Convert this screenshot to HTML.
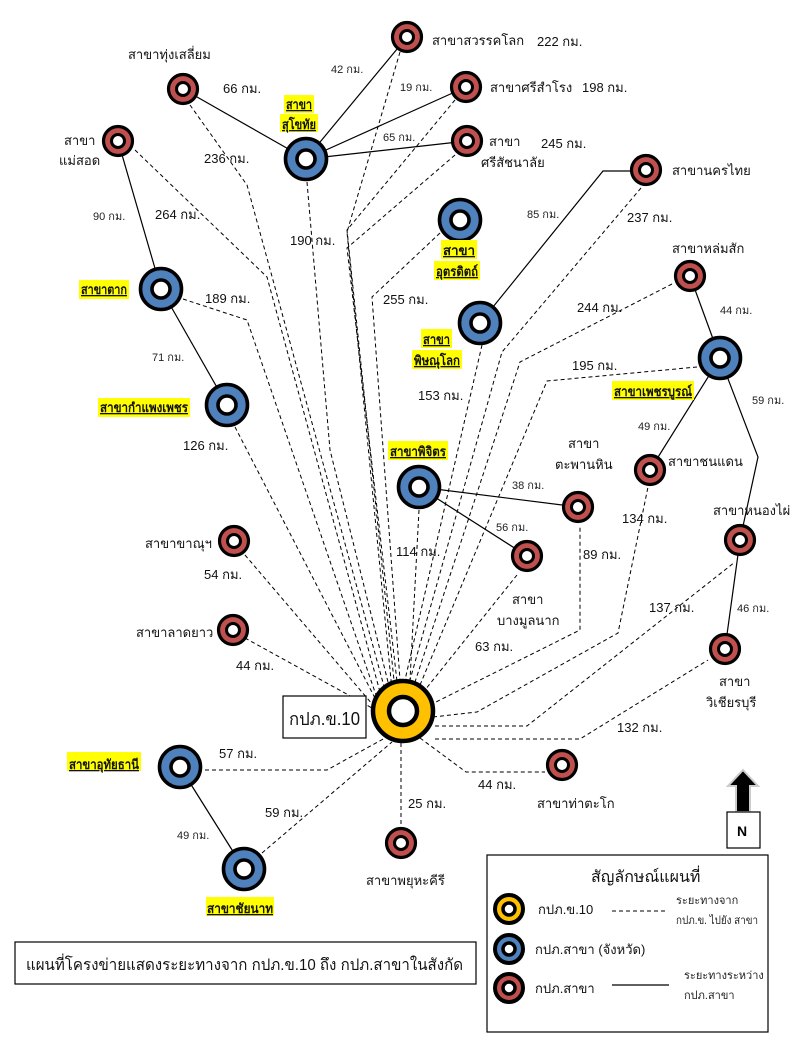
<!DOCTYPE html>
<html><head><meta charset="utf-8">
<style>
html,body{margin:0;padding:0;background:#fff;}
svg{display:block;font-family:"Liberation Sans","Noto Sans CJK SC",sans-serif;}
.t{font-size:13px;fill:#111;}
.s{font-size:11px;fill:#222;}
.h{font-size:13px;font-weight:bold;fill:#111;text-decoration:underline;}
.d{fill:none;stroke:#000;stroke-width:1;stroke-dasharray:4,3;}
.l{fill:none;stroke:#000;stroke-width:1.2;}
</style></head>
<body>
<svg width="793" height="1045" viewBox="0 0 793 1045" xmlns="http://www.w3.org/2000/svg">
<defs>
<g id="red"><circle r="14.5" fill="#c0504d" stroke="#000" stroke-width="3.2"/><circle r="6.5" fill="#fff" stroke="#000" stroke-width="3"/></g>
<g id="blue"><circle r="20.5" fill="#4f81bd" stroke="#000" stroke-width="3.6"/><circle r="9" fill="#fff" stroke="#000" stroke-width="3.6"/></g>
</defs>

<g class="d">
<polyline points="400,52 347,232 392,690"/>
<polyline points="455,100 347,230 395,690"/>
<polyline points="455,155 347,248 398,690"/>
<polyline points="307,182 330,450 390,690"/>
<polyline points="190,105 247,185 385,690"/>
<polyline points="135,150 267,277 380,692"/>
<polyline points="183,299 247,320 376,695"/>
<line x1="235" y1="427" x2="376" y2="700"/>
<line x1="245" y1="555" x2="373" y2="705"/>
<line x1="245" y1="638" x2="372" y2="708"/>
<polyline points="205,770 327,770 385,738"/>
<line x1="262" y1="853" x2="392" y2="742"/>
<line x1="401" y1="743" x2="401" y2="827"/>
<polyline points="420,738 466,772 545,772"/>
<polyline points="435,739 580,739 708,660"/>
<polyline points="435,726 527,726 735,562"/>
<polyline points="433,717 477,712 618,633 648,487"/>
<polyline points="430,705 580,630 580,527"/>
<line x1="517" y1="575" x2="425" y2="690"/>
<line x1="419" y1="510" x2="410" y2="680"/>
<polyline points="482,345 405,680"/>
<polyline points="641,188 502,352 410,680"/>
<polyline points="672,284 520,362 415,682"/>
<polyline points="697,367 547,381 420,685"/>
<polyline points="440,233 372,297 400,680"/>
</g>

<g class="l">
<line x1="306" y1="159" x2="183" y2="89"/>
<line x1="306" y1="159" x2="407" y2="37"/>
<line x1="306" y1="159" x2="466" y2="87"/>
<line x1="306" y1="159" x2="467" y2="141"/>
<line x1="118" y1="141" x2="161" y2="289"/>
<line x1="161" y1="289" x2="227" y2="405"/>
<polyline points="480,323 603,171 646,171"/>
<line x1="690" y1="276" x2="720" y2="358"/>
<line x1="720" y1="358" x2="650" y2="470"/>
<polyline points="720,358 758,457 740,540"/>
<line x1="740" y1="540" x2="725" y2="649"/>
<line x1="419" y1="487" x2="578" y2="507"/>
<line x1="419" y1="487" x2="527" y2="556"/>
<line x1="180" y1="767" x2="244" y2="869"/>
</g>

<use href="#red" x="407" y="37"/>
<use href="#red" x="466" y="87"/>
<use href="#red" x="467" y="141"/>
<use href="#red" x="183" y="89"/>
<use href="#red" x="118" y="141"/>
<use href="#red" x="646" y="170"/>
<use href="#red" x="690" y="276"/>
<use href="#red" x="650" y="470"/>
<use href="#red" x="578" y="507"/>
<use href="#red" x="527" y="556"/>
<use href="#red" x="740" y="540"/>
<use href="#red" x="725" y="649"/>
<use href="#red" x="234" y="541"/>
<use href="#red" x="233" y="630"/>
<use href="#red" x="562" y="765"/>
<use href="#red" x="401" y="843"/>
<use href="#blue" x="306" y="159"/>
<use href="#blue" x="161" y="289"/>
<use href="#blue" x="460" y="220"/>
<use href="#blue" x="480" y="323"/>
<use href="#blue" x="720" y="358"/>
<use href="#blue" x="227" y="405"/>
<use href="#blue" x="419" y="487"/>
<use href="#blue" x="180" y="767"/>
<use href="#blue" x="244" y="869"/>
<circle cx="403" cy="711" r="30" fill="#ffc000" stroke="#000" stroke-width="4.5"/>
<circle cx="403" cy="711" r="14" fill="#fff" stroke="#000" stroke-width="4.5"/>

<g fill="#ffff00">
<rect x="284" y="95" width="30" height="18"/><rect x="280" y="114" width="38" height="18"/>
<rect x="79" y="280" width="50" height="19"/>
<rect x="98" y="398" width="92" height="19"/>
<rect x="441" y="240" width="36" height="19"/><rect x="434" y="261" width="46" height="19"/>
<rect x="421" y="329" width="31" height="19"/><rect x="412" y="350" width="50" height="19"/>
<rect x="612" y="381" width="82" height="19"/>
<rect x="388" y="441" width="60" height="19"/>
<rect x="67" y="752" width="74" height="19"/>
<rect x="206" y="897" width="68" height="19"/>
</g>

<text class="t" x="432" y="45">สาขาสวรรคโลก</text>
<text class="t" x="537" y="46">222 กม.</text>
<text class="t" x="490" y="92">สาขาศรีสำโรง</text>
<text class="t" x="582" y="92">198 กม.</text>
<text class="t" x="489" y="146">สาขา</text>
<text class="t" x="481" y="167">ศรีสัชนาลัย</text>
<text class="t" x="541" y="148">245 กม.</text>
<text class="t" x="128" y="59">สาขาทุ่งเสลี่ยม</text>
<text class="t" x="223" y="93">66 กม.</text>
<text class="h" x="286" y="109" textLength="26" lengthAdjust="spacingAndGlyphs">สาขา</text>
<text class="h" x="282" y="129" textLength="34" lengthAdjust="spacingAndGlyphs">สุโขทัย</text>
<text class="s" x="331" y="73">42 กม.</text>
<text class="s" x="400" y="91">19 กม.</text>
<text class="s" x="383" y="141">65 กม.</text>
<text class="t" x="64" y="145">สาขา</text>
<text class="t" x="59" y="165">แม่สอด</text>
<text class="t" x="204" y="163">236 กม.</text>
<text class="t" x="155" y="219">264 กม.</text>
<text class="t" x="290" y="245">190 กม.</text>
<text class="s" x="93" y="220">90 กม.</text>
<text class="h" x="81" y="294" textLength="46" lengthAdjust="spacingAndGlyphs">สาขาตาก</text>
<text class="t" x="205" y="303">189 กม.</text>
<text class="s" x="152" y="361">71 กม.</text>
<text class="h" x="100" y="412" textLength="88" lengthAdjust="spacingAndGlyphs">สาขากำแพงเพชร</text>
<text class="t" x="183" y="450">126 กม.</text>
<text class="h" x="443" y="255" textLength="32" lengthAdjust="spacingAndGlyphs">สาขา</text>
<text class="h" x="436" y="276" textLength="42" lengthAdjust="spacingAndGlyphs">อุตรดิตถ์</text>
<text class="t" x="383" y="304">255 กม.</text>
<text class="s" x="527" y="218">85 กม.</text>
<text class="t" x="627" y="222">237 กม.</text>
<text class="t" x="672" y="175">สาขานครไทย</text>
<text class="t" x="672" y="253">สาขาหล่มสัก</text>
<text class="t" x="577" y="312">244 กม.</text>
<text class="s" x="720" y="314">44 กม.</text>
<text class="h" x="423" y="344" textLength="27" lengthAdjust="spacingAndGlyphs">สาขา</text>
<text class="h" x="414" y="365" textLength="46" lengthAdjust="spacingAndGlyphs">พิษณุโลก</text>
<text class="t" x="572" y="370">195 กม.</text>
<text class="h" x="614" y="396" textLength="78" lengthAdjust="spacingAndGlyphs">สาขาเพชรบูรณ์</text>
<text class="t" x="418" y="400">153 กม.</text>
<text class="s" x="752" y="404">59 กม.</text>
<text class="s" x="638" y="430">49 กม.</text>
<text class="h" x="390" y="456" textLength="56" lengthAdjust="spacingAndGlyphs">สาขาพิจิตร</text>
<text class="t" x="568" y="448">สาขา</text>
<text class="t" x="555" y="469">ตะพานหิน</text>
<text class="t" x="668" y="466">สาขาชนแดน</text>
<text class="s" x="512" y="489">38 กม.</text>
<text class="t" x="622" y="523">134 กม.</text>
<text class="t" x="713" y="515">สาขาหนองไผ่</text>
<text class="s" x="496" y="531">56 กม.</text>
<text class="t" x="396" y="556">114 กม.</text>
<text class="t" x="145" y="548">สาขาขาณุฯ</text>
<text class="t" x="204" y="579">54 กม.</text>
<text class="t" x="583" y="559">89 กม.</text>
<text class="t" x="512" y="604">สาขา</text>
<text class="t" x="497" y="625">บางมูลนาก</text>
<text class="s" x="737" y="612">46 กม.</text>
<text class="t" x="649" y="612">137 กม.</text>
<text class="t" x="136" y="637">สาขาลาดยาว</text>
<text class="t" x="236" y="670">44 กม.</text>
<text class="t" x="475" y="651">63 กม.</text>
<text class="t" x="719" y="686">สาขา</text>
<text class="t" x="706" y="707">วิเชียรบุรี</text>
<rect x="283" y="696" width="83" height="42" fill="#fff" stroke="#000" stroke-width="1.2"/>
<text x="289" y="725" style="font-size:18px;fill:#111" textLength="71" lengthAdjust="spacingAndGlyphs">กปภ.ข.10</text>
<text class="t" x="617" y="732">132 กม.</text>
<text class="t" x="219" y="758">57 กม.</text>
<text class="h" x="69" y="769" textLength="70" lengthAdjust="spacingAndGlyphs">สาขาอุทัยธานี</text>
<text class="t" x="478" y="789">44 กม.</text>
<text class="t" x="408" y="808">25 กม.</text>
<text class="t" x="537" y="808">สาขาท่าตะโก</text>
<text class="t" x="265" y="817">59 กม.</text>
<text class="s" x="177" y="839">49 กม.</text>
<text class="t" x="366" y="885">สาขาพยุหะคีรี</text>
<text class="h" x="207" y="913" textLength="66" lengthAdjust="spacingAndGlyphs">สาขาชัยนาท</text>

<polygon points="743,770 758,786 750,786 750,812 736,812 736,786 728,786" fill="#000" stroke="#ccc" stroke-width="2"/>
<rect x="727" y="812" width="33" height="36" fill="#fff" stroke="#000" stroke-width="1.2"/>
<text x="737" y="836" style="font-size:14px;font-weight:bold;fill:#000">N</text>

<rect x="15" y="942" width="461" height="42" fill="#fff" stroke="#000" stroke-width="1.2"/>
<text x="26" y="970" style="font-size:16px;fill:#111" textLength="437" lengthAdjust="spacingAndGlyphs">แผนที่โครงข่ายแสดงระยะทางจาก กปภ.ข.10 ถึง กปภ.สาขาในสังกัด</text>

<rect x="487" y="855" width="281" height="177" fill="#fff" stroke="#000" stroke-width="1.2"/>
<text x="591" y="882" style="font-size:16px;fill:#111">สัญลักษณ์แผนที่</text>
<circle cx="509" cy="909" r="14" fill="#ffc000" stroke="#000" stroke-width="4"/>
<circle cx="509" cy="909" r="6" fill="#fff" stroke="#000" stroke-width="3.5"/>
<text class="t" x="538" y="914">กปภ.ข.10</text>
<line x1="612" y1="911" x2="668" y2="911" class="d"/>
<text class="s" x="676" y="904">ระยะทางจาก</text>
<text class="s" x="676" y="924" textLength="82" lengthAdjust="spacingAndGlyphs">กปภ.ข. ไปยัง สาขา</text>
<circle cx="509" cy="949" r="14" fill="#4f81bd" stroke="#000" stroke-width="4"/>
<circle cx="509" cy="949" r="6" fill="#fff" stroke="#000" stroke-width="3.5"/>
<text class="t" x="535" y="954">กปภ.สาขา (จังหวัด)</text>
<circle cx="509" cy="988" r="14" fill="#c0504d" stroke="#000" stroke-width="4"/>
<circle cx="509" cy="988" r="6" fill="#fff" stroke="#000" stroke-width="3.5"/>
<text class="t" x="535" y="993">กปภ.สาขา</text>
<line x1="612" y1="985" x2="669" y2="985" class="l"/>
<text class="s" x="684" y="979">ระยะทางระหว่าง</text>
<text class="s" x="684" y="999">กปภ.สาขา</text>
</svg>
</body></html>
